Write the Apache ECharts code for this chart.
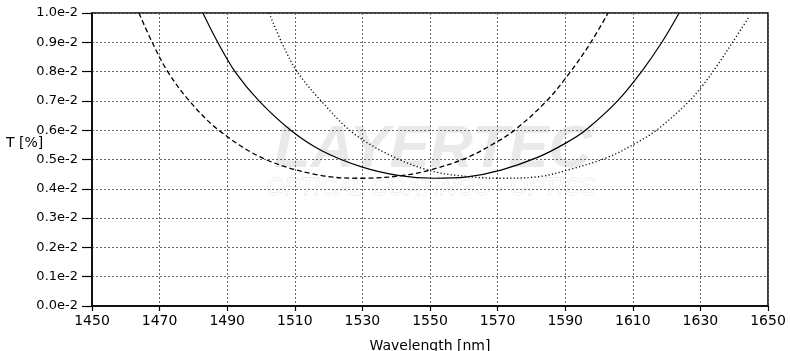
<!DOCTYPE html>
<html>
<head>
<meta charset="utf-8">
<script src="https://cdn.jsdelivr.net/npm/echarts@6/dist/echarts.min.js"></script>
<style>
  html, body { margin: 0; padding: 0; background: #fff; }
  #chart { width: 790px; height: 351px; }
</style>
</head>
<body>
<div id="chart"></div>
<script>
  // wavelength [nm], T [e-2 %]
  const dashedCurve = [
    [1463.9, 1.0], [1467.8, 0.9], [1472.4, 0.8], [1478.8, 0.7], [1487.5, 0.6],
    [1501, 0.502], [1517, 0.447], [1530, 0.436], [1541, 0.444], [1550, 0.464],
    [1560.5, 0.504], [1569, 0.555], [1575, 0.6], [1584.5, 0.7], [1591.6, 0.8],
    [1597.6, 0.9], [1602.7, 1.0]
  ];
  const solidCurve = [
    [1482.8, 1.0], [1487.2, 0.9], [1492.3, 0.8], [1499.4, 0.7], [1508.8, 0.6],
    [1518, 0.53], [1530, 0.474], [1541, 0.445], [1551, 0.436], [1561, 0.441],
    [1571, 0.464], [1582, 0.508], [1590, 0.555], [1596, 0.6], [1605.5, 0.7],
    [1612.6, 0.8], [1618.6, 0.9], [1623.7, 1.0]
  ];
  const dottedCurve = [
    [1502.4, 1.0], [1506.1, 0.9], [1510.7, 0.8], [1518.4, 0.692], [1527.3, 0.59],
    [1539, 0.51], [1550, 0.462], [1560, 0.443], [1571, 0.436], [1582.5, 0.442],
    [1591, 0.465], [1602.3, 0.506], [1610, 0.55], [1617, 0.6], [1625.9, 0.69],
    [1630.5, 0.75], [1635.5, 0.83], [1639.5, 0.9], [1644.4, 0.987]
  ];

  const xTicks = { min: 1450, max: 1650, step: 20 };
  const yTicks = { min: 0, max: 1.0, step: 0.1 };

  const chart = echarts.init(document.getElementById("chart"));
  const font = "DejaVu Sans";

  chart.setOption({
    animation: false,
    grid: {
      left: 92, right: 22, top: 13, bottom: 45,
      containLabel: false, outerBoundsMode: "none",
      show: true, borderColor: "#000", borderWidth: 1.5
    },
    graphic: [
      {
        type: "text", z: -1, left: 274, top: 120,
        style: {
          text: "LAYERTEC", fill: "#e9e9e9",
          font: "italic bold 60px 'Liberation Sans'"
        }
      },
      {
        type: "text", z: -1, left: 266, top: 177,
        style: {
          text: "OPTICAL COATINGS · OPTICS", fill: "#fff",
          stroke: "#dcdcdc", lineWidth: 0.8,
          font: "italic 23px 'Liberation Sans'"
        }
      },
      {
        type: "text", z: -1, left: 588, top: 124,
        style: { text: "®", fill: "#e2e2e2", font: "12px 'Liberation Sans'" }
      }
    ],
    xAxis: {
      type: "value",
      min: xTicks.min, max: xTicks.max, interval: xTicks.step,
      name: "Wavelength [nm]",
      nameLocation: "middle", nameGap: 33,
      nameTextStyle: { color: "#000", fontFamily: font, fontSize: 14 },
      axisLine: { lineStyle: { color: "#000", width: 1.5 } },
      axisTick: { length: 5, lineStyle: { color: "#000", width: 1.2 } },
      axisLabel: {
        color: "#000", fontFamily: font, fontSize: 14, margin: 8,
        formatter: (v) => String(v)
      },
      splitLine: { lineStyle: { color: "#666", type: [2, 2], width: 1 } }
    },
    yAxis: {
      type: "value",
      min: yTicks.min, max: yTicks.max, interval: yTicks.step,
      name: "T [%]",
      nameLocation: "middle", nameGap: 86, nameRotate: 0,
      nameMoveOverlap: false,
      nameTextStyle: {
        color: "#000", fontFamily: font, fontSize: 14,
        align: "left", verticalAlign: "bottom", padding: [0, 0, 9, 0]
      },
      axisLine: { show: true, lineStyle: { color: "#000", width: 1.5 } },
      axisTick: { show: true, length: 10, lineStyle: { color: "#000", width: 1.2 } },
      axisLabel: {
        color: "#000", fontFamily: font, fontSize: 13, margin: 14,
        formatter: (v) => v.toFixed(1) + "e-2"
      },
      splitLine: { lineStyle: { color: "#666", type: [2, 2], width: 1 } }
    },
    series: [
      {
        type: "line", data: dashedCurve, smooth: 0.35, showSymbol: false,
        lineStyle: { color: "#000", width: 1.3, type: [5, 3] }
      },
      {
        type: "line", data: solidCurve, smooth: 0.35, showSymbol: false,
        lineStyle: { color: "#000", width: 1.2 }
      },
      {
        type: "line", data: dottedCurve, smooth: 0.35, showSymbol: false,
        lineStyle: { color: "#111", width: 1.4, type: [1.2, 2.3] }
      }
    ]
  });
</script>
</body>
</html>
